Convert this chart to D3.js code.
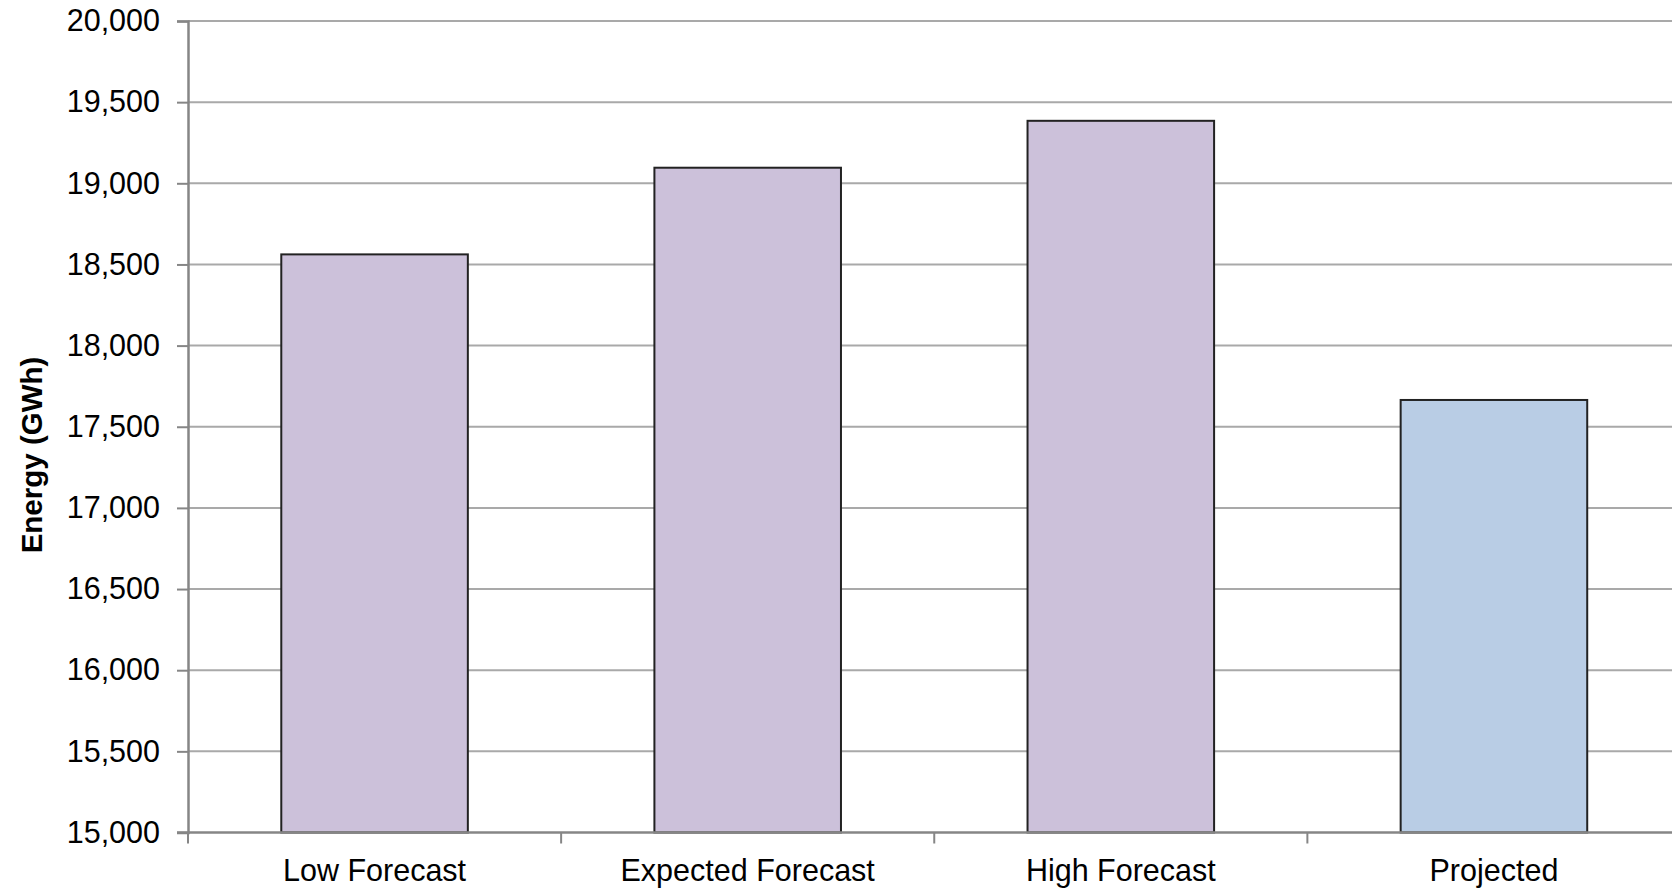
<!DOCTYPE html>
<html>
<head>
<meta charset="utf-8">
<script src="https://cdn.jsdelivr.net/npm/d3@7"></script>
<style>
  html, body { margin: 0; padding: 0; background: #fff; overflow: hidden; }
  svg { display: block; }
  text { font-family: "Liberation Sans", Arial, sans-serif; fill: #000; }
</style>
</head>
<body>
<svg id="chart" width="1672" height="889"></svg>
<script>
// Annual energy scenarios (GWh)
const categories = ["Low Forecast", "Expected Forecast", "High Forecast", "Projected"];
const energyGWh = [18562, 19096, 19385, 17665];
const barColors = ["#CCC1DA", "#CCC1DA", "#CCC1DA", "#B9CDE5"];
const yTicks = [15000, 15500, 16000, 16500, 17000, 17500, 18000, 18500, 19000, 19500, 20000];
const yTitle = "Energy (GWh)";

const svg = d3.select("#chart");
const plotLeft = 188, plotRight = 1680.5, plotTop = 21, plotBottom = 832.5;
const labelSize = 30.5;

const y = d3.scaleLinear().domain([15000, 20000]).range([plotBottom, plotTop]);
const x = d3.scaleBand().domain(categories).range([plotLeft, plotRight])
  .paddingInner(0.5).paddingOuter(0.25);

// horizontal gridlines
svg.append("g").selectAll("line")
  .data(yTicks.filter(t => t > 15000))
  .join("line")
  .attr("x1", plotLeft).attr("x2", plotRight)
  .attr("y1", d => y(d)).attr("y2", d => y(d))
  .attr("stroke", "#a9a9a9").attr("stroke-width", 2);

// bars
svg.append("g").selectAll("rect")
  .data(categories)
  .join("rect")
  .attr("x", d => x(d))
  .attr("width", x.bandwidth())
  .attr("y", (d, i) => y(energyGWh[i]))
  .attr("height", (d, i) => y(15000) - y(energyGWh[i]))
  .attr("fill", (d, i) => barColors[i])
  .attr("stroke", "#222")
  .attr("stroke-width", 2);

// y axis
const yAxis = d3.axisLeft(y).tickValues(yTicks).tickSize(11).tickPadding(17)
  .tickFormat(d3.format(","));
const gy = svg.append("g").attr("transform", `translate(${plotLeft},0)`).call(yAxis);
gy.select(".domain").attr("stroke", "#868686").attr("stroke-width", 2.5);
gy.selectAll(".tick line").attr("stroke", "#868686").attr("stroke-width", 2);
gy.selectAll(".tick text")
  .attr("font-size", labelSize).attr("font-family", "Liberation Sans, Arial, sans-serif")
  .attr("fill", "#000");

// x axis: ticks sit on category boundaries
const boundaries = d3.range(categories.length + 1).map(i => plotLeft + i * x.step());
const gx = svg.append("g");
gx.append("line")
  .attr("x1", plotLeft - 11).attr("x2", plotRight)
  .attr("y1", plotBottom).attr("y2", plotBottom)
  .attr("stroke", "#868686").attr("stroke-width", 2.5);
gx.selectAll("line.tick")
  .data(boundaries)
  .join("line").attr("class", "tick")
  .attr("x1", d => d).attr("x2", d => d)
  .attr("y1", plotBottom).attr("y2", plotBottom + 11)
  .attr("stroke", "#868686").attr("stroke-width", 2);
gx.selectAll("text")
  .data(categories)
  .join("text")
  .attr("x", d => x(d) + x.bandwidth() / 2)
  .attr("y", plotBottom + 48.5)
  .attr("text-anchor", "middle")
  .attr("font-size", labelSize)
  .text(d => d);

// y axis title
svg.append("text")
  .attr("transform", `translate(42,455) rotate(-90)`)
  .attr("text-anchor", "middle")
  .attr("font-size", 29.5)
  .attr("font-weight", "bold")
  .text(yTitle);
</script>
</body>
</html>
